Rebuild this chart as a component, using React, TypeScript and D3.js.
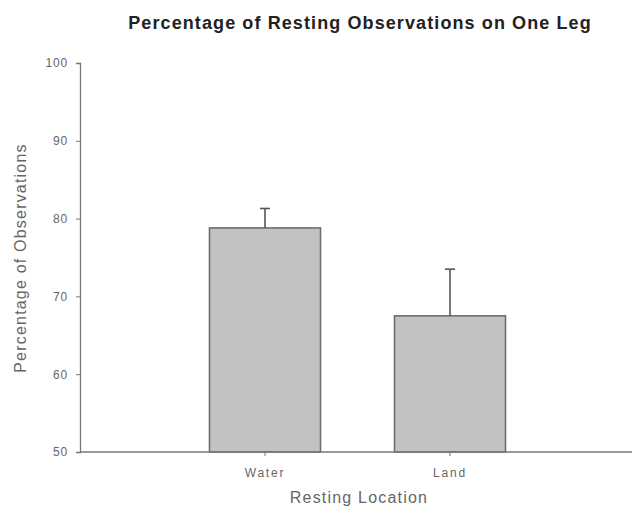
import React, { useEffect, useRef } from 'react';
import * as d3 from 'd3';

const categories = ['Water', 'Land'];
const means = [78.8, 67.5];
const errors = [2.5, 6.0];
const yTicks = [50, 60, 70, 80, 90, 100];

const W = 632;
const H = 509;
const FONT = 'Liberation Sans, Arial, sans-serif';

const App = () => {
  const ref = useRef<SVGGElement>(null);

  useEffect(() => {
    const g = d3.select(ref.current);
    g.selectAll('*').remove();

    const y = d3.scaleLinear().domain([50, 100]).range([452, 63]);
    // categories sit at 1 and 2 on a 0..3 axis
    const x = d3.scaleLinear().domain([0, 3]).range([80, 635]);
    const barW = 111;

    // bars
    g.selectAll('rect.bar')
      .data(categories)
      .enter()
      .append('rect')
      .attr('class', 'bar')
      .attr('x', (d, i) => x(i + 1) - barW / 2)
      .attr('y', (d, i) => y(means[i]))
      .attr('width', barW)
      .attr('height', (d, i) => y(50) - y(means[i]))
      .attr('fill', '#c2c2c2')
      .attr('stroke', '#6e6e6e')
      .attr('stroke-width', 1.6);

    // error bars (upper only)
    const err = g.selectAll('g.err').data(categories).enter().append('g').attr('class', 'err');
    err.append('line')
      .attr('x1', (d, i) => x(i + 1))
      .attr('x2', (d, i) => x(i + 1))
      .attr('y1', (d, i) => y(means[i]))
      .attr('y2', (d, i) => y(means[i] + errors[i]))
      .attr('stroke', '#555')
      .attr('stroke-width', 1.6);
    err.append('line')
      .attr('x1', (d, i) => x(i + 1) - 5)
      .attr('x2', (d, i) => x(i + 1) + 5)
      .attr('y1', (d, i) => y(means[i] + errors[i]))
      .attr('y2', (d, i) => y(means[i] + errors[i]))
      .attr('stroke', '#555')
      .attr('stroke-width', 1.6);

    // y axis
    const yAxis = g.append('g')
      .attr('transform', 'translate(80,0)')
      .call(d3.axisLeft(y).tickValues(yTicks).tickSize(4).tickPadding(8));
    yAxis.select('.domain').attr('stroke', '#777').attr('stroke-width', 1.3);
    yAxis.selectAll('.tick line').attr('stroke', '#777');
    yAxis.selectAll('.tick text')
      .attr('fill', '#666')
      .attr('font-size', 12)
      .attr('letter-spacing', 0.8)
      .attr('font-family', FONT);

    // x axis
    g.append('line')
      .attr('x1', 80).attr('x2', W)
      .attr('y1', y(50)).attr('y2', y(50))
      .attr('stroke', '#777').attr('stroke-width', 1.3);
    g.selectAll('line.xtick')
      .data(categories)
      .enter()
      .append('line')
      .attr('class', 'xtick')
      .attr('x1', (d, i) => x(i + 1)).attr('x2', (d, i) => x(i + 1))
      .attr('y1', y(50)).attr('y2', y(50) + 4)
      .attr('stroke', '#777');
    g.selectAll('text.xlab')
      .data(categories)
      .enter()
      .append('text')
      .attr('class', 'xlab')
      .attr('x', (d, i) => x(i + 1))
      .attr('y', 477)
      .attr('text-anchor', 'middle')
      .attr('fill', '#666')
      .attr('font-size', 12)
      .attr('letter-spacing', 1.8)
      .attr('font-family', FONT)
      .text(d => d);
  }, []);

  return (
    <svg width={W} height={H} style={{ display: 'block', position: 'absolute', left: 0, top: 0 }}>
      <rect width={W} height={H} fill="#fff" />
      <text x={360} y={29} textAnchor="middle" fontSize={18} fontWeight="bold" letterSpacing={1.1}
        fontFamily={FONT} fill="#222">
        Percentage of Resting Observations on One Leg
      </text>
      <text x={359} y={503} textAnchor="middle" fontSize={16} letterSpacing={1.2}
        fontFamily={FONT} fill="#666">
        Resting Location
      </text>
      <text transform="translate(26,258) rotate(-90)" textAnchor="middle" fontSize={16} letterSpacing={1.2}
        fontFamily={FONT} fill="#666">
        Percentage of Observations
      </text>
      <g ref={ref} />
    </svg>
  );
};

export default App;
